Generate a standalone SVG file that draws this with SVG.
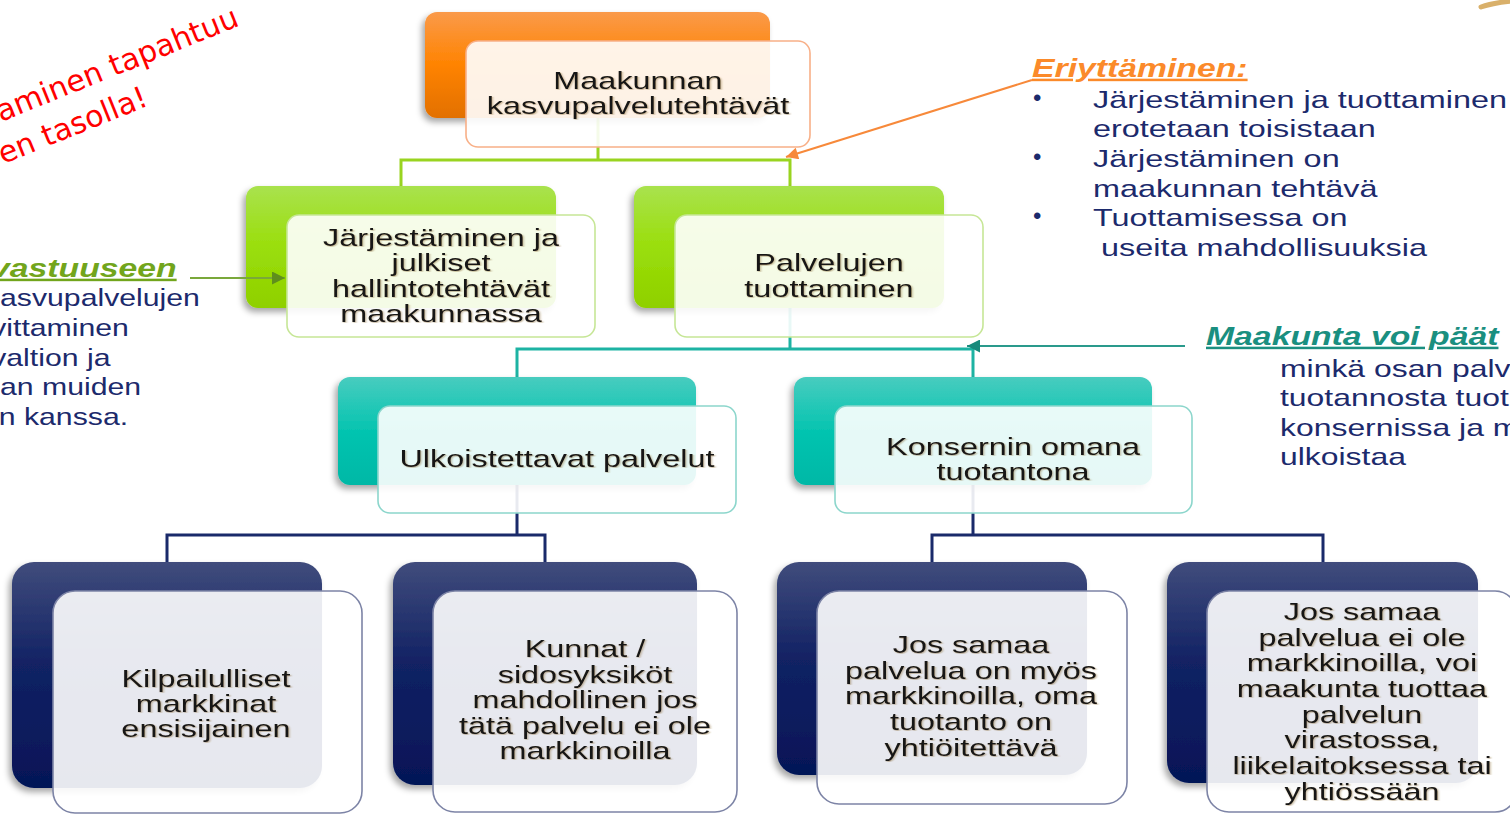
<svg xmlns="http://www.w3.org/2000/svg" width="1510" height="814" viewBox="0 0 1510 814">
<defs>
<linearGradient id="gO" x1="0" y1="0" x2="0" y2="1"><stop offset="0" stop-color="#fa9a4a"/><stop offset="0.5" stop-color="#ff8300"/><stop offset="1" stop-color="#e27000"/></linearGradient>
<linearGradient id="gG" x1="0" y1="0" x2="0" y2="1"><stop offset="0" stop-color="#a9e24e"/><stop offset="0.5" stop-color="#9ade0a"/><stop offset="1" stop-color="#8fd000"/></linearGradient>
<linearGradient id="gT" x1="0" y1="0" x2="0" y2="1"><stop offset="0" stop-color="#48ccbf"/><stop offset="0.5" stop-color="#05c4b0"/><stop offset="1" stop-color="#00b8a6"/></linearGradient>
<linearGradient id="gN" x1="0" y1="0" x2="0" y2="1"><stop offset="0" stop-color="#404c7c"/><stop offset="0.45" stop-color="#122264"/><stop offset="1" stop-color="#051557"/></linearGradient>
<filter id="sh" x="-10%" y="-10%" width="125%" height="130%"><feDropShadow dx="-3" dy="4" stdDeviation="3" flood-color="#000" flood-opacity="0.35"/></filter>
<filter id="ts" x="-5%" y="-20%" width="110%" height="140%"><feDropShadow dx="0.8" dy="0.8" stdDeviation="0.6" flood-color="#7a5a20" flood-opacity="0.45"/></filter>
<marker id="aO" viewBox="0 0 10 10" refX="10" refY="5" markerWidth="16" markerHeight="12" markerUnits="userSpaceOnUse" orient="auto"><path d="M0,0 L10,5 L0,10 z" fill="#f7893a"/></marker>
<marker id="aG" viewBox="0 0 10 10" refX="10" refY="5" markerWidth="16" markerHeight="13" markerUnits="userSpaceOnUse" orient="auto"><path d="M0,0 L10,5 L0,10 z" fill="#5f8f1c"/></marker>
<marker id="aT" viewBox="0 0 10 10" refX="10" refY="5" markerWidth="18" markerHeight="13" markerUnits="userSpaceOnUse" orient="auto"><path d="M0,0 L10,5 L0,10 z" fill="#188a7c"/></marker>
</defs>
<style>
.back{filter:url(#sh)}
.front{fill:#ffffff;fill-opacity:0.9;stroke-width:1.6}
.fo{stroke:#f8b088}
.fg{stroke:#c6e696}
.ft{stroke:#8cd6cc}
.fn{stroke:#7d84a6}
.nt{font-family:"Liberation Sans",Arial,sans-serif;font-size:24px;fill:#141414;text-anchor:middle;filter:url(#ts)}
.body{font-family:"Liberation Sans",Arial,sans-serif;font-size:24px;fill:#1c2a6c}
.ttl{font-family:"Liberation Sans",Arial,sans-serif;font-size:25px;font-weight:bold;font-style:italic;text-decoration:underline}
.red{font-family:"DejaVu Sans",Verdana,sans-serif;font-size:30px;fill:#ff0000}
.cg{fill:none;stroke:#99d420;stroke-width:3}
.ct{fill:none;stroke:#1db3a3;stroke-width:3}
.cn{fill:none;stroke:#1a2a6a;stroke-width:3}
</style>
<rect width="1510" height="814" fill="#ffffff"/>

<g id="connectors">
<path class="cg" d="M598,118 V160 M401,186 V160 H790 V186"/>
<path class="ct" d="M790,308 V349 M517,377 V349 H973 V377"/>
<path class="cn" d="M517,485 V535 M167,562 V535 H545 V562"/>
<path class="cn" d="M973,485 V535 M932,562 V535 H1323 V562"/>
</g>

<g id="node-maakunnan">
<rect class="back" x="425" y="12" width="345" height="106" rx="12" fill="url(#gO)"/>
<rect class="front fo" x="466" y="41" width="344" height="106" rx="12"/>
<g transform="translate(638 0) scale(1.35 1)"><text class="nt" y="89">Maakunnan</text><text class="nt" y="114">kasvupalvelutehtävät</text></g>
</g>

<g id="node-jarjestaminen">
<rect class="back" x="246" y="186" width="310" height="122" rx="12" fill="url(#gG)"/>
<rect class="front fg" x="287" y="215" width="308" height="122" rx="12"/>
<g transform="translate(441 0) scale(1.35 1)"><text class="nt" y="246">Järjestäminen ja</text><text class="nt" y="271">julkiset</text><text class="nt" y="297">hallintotehtävät</text><text class="nt" y="322">maakunnassa</text></g>
</g>

<g id="node-palvelujen">
<rect class="back" x="634" y="186" width="310" height="122" rx="12" fill="url(#gG)"/>
<rect class="front fg" x="675" y="215" width="308" height="122" rx="12"/>
<g transform="translate(829 0) scale(1.35 1)"><text class="nt" y="271">Palvelujen</text><text class="nt" y="297">tuottaminen</text></g>
</g>

<g id="node-ulkoistettavat">
<rect class="back" x="338" y="377" width="358" height="108" rx="12" fill="url(#gT)"/>
<rect class="front ft" x="378" y="406" width="358" height="107" rx="12"/>
<g transform="translate(557 0) scale(1.35 1)"><text class="nt" y="467">Ulkoistettavat palvelut</text></g>
</g>

<g id="node-konsernin">
<rect class="back" x="794" y="377" width="358" height="108" rx="12" fill="url(#gT)"/>
<rect class="front ft" x="835" y="406" width="357" height="107" rx="12"/>
<g transform="translate(1013 0) scale(1.35 1)"><text class="nt" y="455">Konsernin omana</text><text class="nt" y="480">tuotantona</text></g>
</g>

<g id="node-kilpailulliset">
<rect class="back" x="12" y="562" width="310" height="226" rx="22" fill="url(#gN)"/>
<rect class="front fn" x="53" y="591" width="309" height="222" rx="22"/>
<g transform="translate(206 0) scale(1.35 1)"><text class="nt" y="687">Kilpailulliset</text><text class="nt" y="712">markkinat</text><text class="nt" y="737">ensisijainen</text></g>
</g>

<g id="node-kunnat">
<rect class="back" x="393" y="562" width="304" height="223" rx="22" fill="url(#gN)"/>
<rect class="front fn" x="433" y="591" width="304" height="221" rx="22"/>
<g transform="translate(585 0) scale(1.35 1)"><text class="nt" y="657">Kunnat /</text><text class="nt" y="683">sidosyksiköt</text><text class="nt" y="708">mahdollinen jos</text><text class="nt" y="734">tätä palvelu ei ole</text><text class="nt" y="759">markkinoilla</text></g>
</g>

<g id="node-jos-on">
<rect class="back" x="777" y="562" width="310" height="213" rx="22" fill="url(#gN)"/>
<rect class="front fn" x="817" y="591" width="310" height="213" rx="22"/>
<g transform="translate(971 0) scale(1.35 1)"><text class="nt" y="653">Jos samaa</text><text class="nt" y="679">palvelua on myös</text><text class="nt" y="704">markkinoilla, oma</text><text class="nt" y="730">tuotanto on</text><text class="nt" y="756">yhtiöitettävä</text></g>
</g>

<g id="node-jos-ei">
<rect class="back" x="1167" y="562" width="311" height="221" rx="22" fill="url(#gN)"/>
<rect class="front fn" x="1207" y="591" width="310" height="221" rx="22"/>
<g transform="translate(1362 0) scale(1.35 1)"><text class="nt" y="620">Jos samaa</text><text class="nt" y="646">palvelua ei ole</text><text class="nt" y="671">markkinoilla, voi</text><text class="nt" y="697">maakunta tuottaa</text><text class="nt" y="723">palvelun</text><text class="nt" y="748">virastossa,</text><text class="nt" y="774">liikelaitoksessa tai</text><text class="nt" y="800">yhtiössään</text></g>
</g>

<g id="annotation-connectors">
<line x1="1032" y1="80" x2="786" y2="157" stroke="#f7893a" stroke-width="2" marker-end="url(#aO)"/>
<line x1="190" y1="278" x2="285" y2="278" stroke="#7aa83a" stroke-width="2" marker-end="url(#aG)"/>
<line x1="1185" y1="346" x2="967" y2="346" stroke="#2a9a8c" stroke-width="2" marker-end="url(#aT)"/>
</g>

<g id="note-red" transform="translate(1 122) rotate(-22)">
<text class="red" x="0" y="0">aminen tapahtuu</text>
<text class="red" x="-14" y="40">en tasolla!</text>
</g>

<g id="note-left">
<g transform="translate(-9 0) scale(1.35 1)"><text class="ttl" y="277" fill="#72a51c">vastuuseen</text></g>
<g transform="scale(1.26 1)">
<text class="body" x="0" y="306">asvupalvelujen</text>
<text class="body" x="-7" y="336">vittaminen</text>
<text class="body" x="-7" y="366">valtion ja</text>
<text class="body" x="0" y="395">an muiden</text>
<text class="body" x="-1" y="425">n kanssa.</text>
</g>
</g>

<g id="note-eriyttaminen">
<g transform="translate(1032 0) scale(1.35 1)"><text class="ttl" y="77" fill="#fb8a2a">Eriyttäminen:</text></g>
<text class="body" x="1033" y="106" font-size="20">•</text>
<text class="body" x="1033" y="165" font-size="20">•</text>
<text class="body" x="1033" y="224" font-size="20">•</text>
<g transform="translate(1093 0) scale(1.35 1)">
<text class="body" x="0" y="108">Järjestäminen ja tuottaminen</text>
<text class="body" x="0" y="137">erotetaan toisistaan</text>
<text class="body" x="0" y="167">Järjestäminen on</text>
<text class="body" x="0" y="197">maakunnan tehtävä</text>
<text class="body" x="0" y="226">Tuottamisessa on</text>
<text class="body" x="6" y="256">useita mahdollisuuksia</text>
</g>
</g>

<g id="note-maakunta">
<g transform="translate(1206 0) scale(1.35 1)"><text class="ttl" y="345" fill="#1a8f80">Maakunta voi päät</text></g>
<g transform="translate(1280 0) scale(1.33 1)">
<text class="body" x="0" y="377">minkä osan palv</text>
<text class="body" x="0" y="406">tuotannosta tuot</text>
<text class="body" x="0" y="436">konsernissa ja m</text>
<text class="body" x="0" y="465">ulkoistaa</text>
</g>
</g>

<path d="M1481,7 Q1492,3 1512,1" fill="none" stroke="#d9b06a" stroke-width="5" stroke-linecap="round"/>
</svg>
